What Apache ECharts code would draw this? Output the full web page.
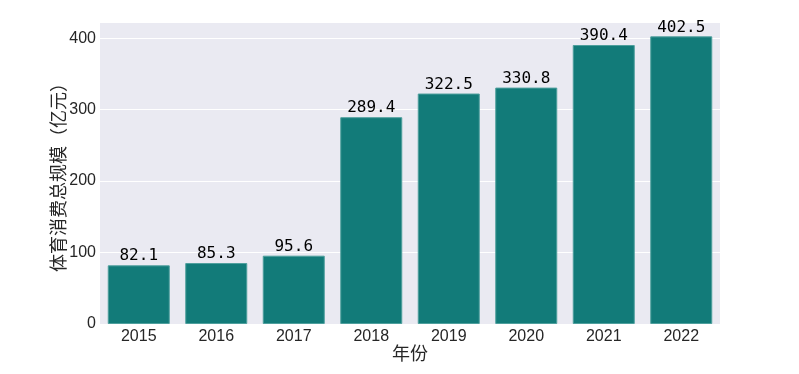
<!DOCTYPE html>
<html>
<head>
<meta charset="utf-8">
<script src="https://cdn.jsdelivr.net/npm/echarts@6/dist/echarts.min.js"></script>
<style>html,body{margin:0;padding:0;background:#fff;}#c{width:799px;height:374px;}</style>
</head>
<body>
<div id="c"></div>
<script>
const years = ['2015','2016','2017','2018','2019','2020','2021','2022'];
const values = [82.1, 85.3, 95.6, 289.4, 322.5, 330.8, 390.4, 402.5];
const yTicks = [0, 100, 200, 300, 400];

const chart = echarts.init(document.getElementById('c'), null, {renderer: 'canvas'});
chart.setOption({
  animation: false,
  backgroundColor: '#ffffff',
  grid: {left: 100, right: 79, top: 22, bottom: 50, show: true, backgroundColor: '#EAEAF2', borderWidth: 0},
  xAxis: {
    type: 'category',
    data: years,
    name: '年份',
    nameLocation: 'middle',
    nameGap: 20,
    nameMoveOverlap: false,
    nameTextStyle: {fontFamily: 'Noto Sans CJK SC', fontSize: 18, color: '#262626', verticalAlign: 'top'},
    axisLine: {show: false},
    axisTick: {show: false},
    axisLabel: {fontFamily: 'Liberation Sans', fontSize: 16, color: '#262626', margin: 5},
    splitLine: {show: false}
  },
  yAxis: {
    type: 'value',
    min: 0,
    max: 422.6,
    interval: 100,
    name: '体育消费总规模（亿元）',
    nameLocation: 'middle',
    nameGap: 33,
    nameMoveOverlap: false,
    nameTextStyle: {fontFamily: 'Noto Sans CJK SC', fontSize: 18, color: '#262626'},
    axisLine: {show: false},
    axisTick: {show: false},
    axisLabel: {
      fontFamily: 'Liberation Sans', fontSize: 16, color: '#262626', margin: 4,
      formatter: function (v) { return yTicks.indexOf(v) >= 0 ? String(v) : ''; }
    },
    splitLine: {show: true, lineStyle: {color: '#ffffff', width: 1}}
  },
  series: [{
    type: 'bar',
    data: values,
    barWidth: '80%',
    itemStyle: {color: '#127B79', borderColor: '#4E9F9D', borderWidth: 1},
    label: {
      show: true,
      position: 'top',
      distance: 1,
      fontFamily: 'DejaVu Sans Mono',
      fontSize: 16,
      color: '#000000',
      formatter: function (p) { return p.value.toFixed(1); }
    }
  }]
});
</script>
</body>
</html>
